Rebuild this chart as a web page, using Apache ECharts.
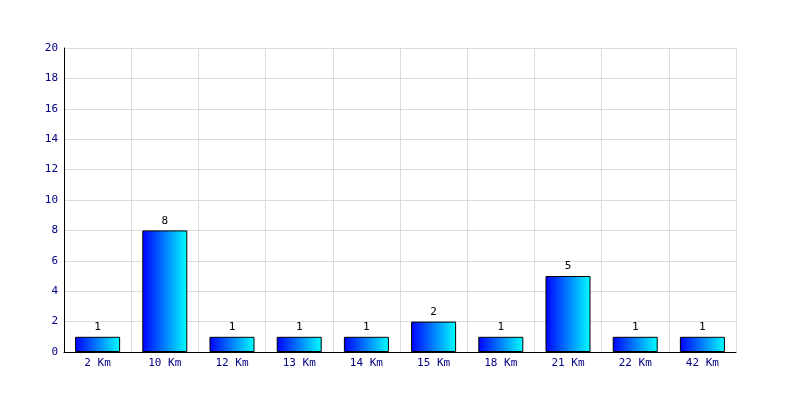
<!DOCTYPE html>
<html><head><meta charset="utf-8">
<script src="https://cdn.jsdelivr.net/npm/echarts@6/dist/echarts.min.js"></script>
<style>html,body{margin:0;padding:0;background:#fff}#c{width:800px;height:400px}</style>
</head><body><div id="c"></div>
<script>
var categories = ['2 Km','10 Km','12 Km','13 Km','14 Km','15 Km','18 Km','21 Km','22 Km','42 Km'];
var values = [1,8,1,1,1,2,1,5,1,1];
var yMin = 0, yMax = 20, yInterval = 2;

var chart = echarts.init(document.getElementById('c'), null, {renderer:'canvas'});
var font = 'DejaVu Sans Mono';
chart.setOption({
  animation:false,
  backgroundColor:'#fff',
  grid:{left:64,right:64,top:48,bottom:48,containLabel:false,show:false},
  xAxis:{
    type:'category', data:categories, boundaryGap:true,
    axisLine:{show:true,lineStyle:{color:'#000',width:1}},
    axisTick:{show:false},
    axisLabel:{color:'#000080',fontFamily:font,fontSize:11,margin:6,interval:0},
    splitLine:{show:true,interval:0,lineStyle:{color:'#dcdcdc',width:1}}
  },
  yAxis:{
    type:'value', min:yMin, max:yMax, interval:yInterval,
    axisLine:{show:true,lineStyle:{color:'#000',width:1}},
    axisTick:{show:false},
    axisLabel:{color:'#000080',fontFamily:font,fontSize:11,margin:6},
    splitLine:{show:true,lineStyle:{color:'#dcdcdc',width:1}}
  },
  series:[{
    type:'bar', data:values, barWidth:'67%',
    itemStyle:{
      color:new echarts.graphic.LinearGradient(0,0,1,0,[{offset:0,color:'#0000ff'},{offset:1,color:'#00ffff'}]),
      borderColor:'#000',borderWidth:1
    },
    label:{show:true,position:'top',color:'#000',fontFamily:font,fontSize:11,distance:4}
  }]
});
// right border of grid
chart.setOption({graphic:[]});
</script></body></html>
